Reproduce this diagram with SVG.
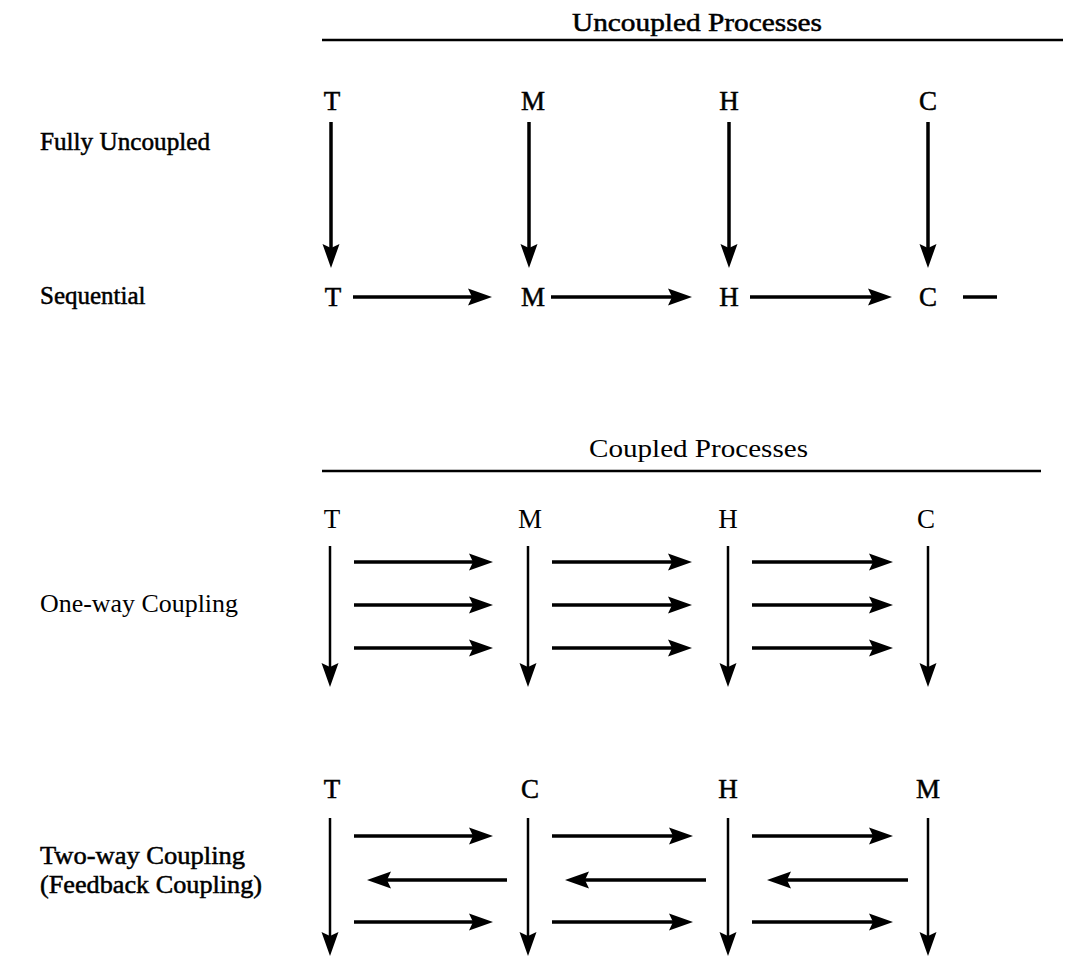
<svg xmlns="http://www.w3.org/2000/svg" width="1066" height="958" viewBox="0 0 1066 958">
<defs>
<style>
text{font-family:"Liberation Serif","Times New Roman",serif;fill:#000}
.hd{font-size:25px}
.lb{font-size:25px}
.lt{font-size:27px;text-anchor:middle}
.bold{stroke:#000;stroke-width:0.5}
.rule{stroke:#000;stroke-width:2.5;fill:none}
.ar{stroke:#000;stroke-width:3.5;fill:none;marker-end:url(#ah)}
.av{stroke:#000;stroke-width:2.5;fill:none;marker-end:url(#ah)}
</style>
<marker id="ah" markerUnits="userSpaceOnUse" markerWidth="28" markerHeight="20" refX="10" refY="9" orient="auto" overflow="visible">
<path d="M0,0.5 L24,9 L0,17.5 L4,9 Z" fill="#000"/>
</marker>
</defs>
<rect width="1066" height="958" fill="#fff"/>

<g id="headers">
<text class="hd bold" x="572" y="31" textLength="250" lengthAdjust="spacingAndGlyphs">Uncoupled Processes</text>
<line class="rule" x1="322" y1="40" x2="1063" y2="40"/>
<text class="hd" x="589" y="457" textLength="219" lengthAdjust="spacingAndGlyphs">Coupled Processes</text>
<line class="rule" x1="322" y1="471" x2="1041" y2="471"/>
</g>

<g id="row-labels">
<text id="lbl-fully" class="lb bold" x="40" y="150" textLength="170" lengthAdjust="spacingAndGlyphs">Fully Uncoupled</text>
<text id="lbl-seq" class="lb bold" x="40" y="304">Sequential</text>
<text id="lbl-oneway" class="lb" x="40" y="612" textLength="198" lengthAdjust="spacingAndGlyphs">One-way Coupling</text>
<text id="lbl-twoway" class="lb bold" x="40" y="864" textLength="205" lengthAdjust="spacingAndGlyphs">Two-way Coupling</text>
<text id="lbl-feedback" class="lb bold" x="40" y="893" textLength="222" lengthAdjust="spacingAndGlyphs">(Feedback Coupling)</text>
</g>

<g id="fully-uncoupled-nodes">
<text id="fu-T" class="lt bold" x="332" y="110">T</text>
<text id="fu-M" class="lt bold" x="533" y="110">M</text>
<text id="fu-H" class="lt bold" x="729" y="110">H</text>
<text id="fu-C" class="lt bold" x="928" y="110">C</text>
</g>

<g id="sequential-nodes">
<text id="sq-T" class="lt bold" x="333" y="306">T</text>
<text id="sq-M" class="lt bold" x="533" y="306">M</text>
<text id="sq-H" class="lt bold" x="729" y="306">H</text>
<text id="sq-C" class="lt bold" x="928" y="306">C</text>
</g>

<g id="oneway-nodes">
<text id="ow-T" class="lt" x="332" y="528">T</text>
<text id="ow-M" class="lt" x="530" y="528">M</text>
<text id="ow-H" class="lt" x="728" y="528">H</text>
<text id="ow-C" class="lt" x="926" y="528">C</text>
</g>

<g id="twoway-nodes">
<text id="tw-T" class="lt bold" x="332" y="798">T</text>
<text id="tw-C" class="lt bold" x="530" y="798">C</text>
<text id="tw-H" class="lt bold" x="728" y="798">H</text>
<text id="tw-M" class="lt bold" x="928" y="798">M</text>
</g>

<g id="connectors">
<!-- fully uncoupled -->
<line class="ar" x1="331" y1="122" x2="331" y2="254"/>
<line class="ar" x1="529" y1="122" x2="529" y2="254"/>
<line class="ar" x1="729" y1="122" x2="729" y2="254"/>
<line class="ar" x1="928" y1="122" x2="928" y2="254"/>
<!-- sequential -->
<line class="ar" x1="353" y1="297" x2="478" y2="297"/>
<line class="ar" x1="551" y1="297" x2="678" y2="297"/>
<line class="ar" x1="750" y1="297" x2="878" y2="297"/>
<line class="rule" x1="963" y1="297" x2="997" y2="297" style="stroke-width:3.5"/>
<!-- one-way verticals -->
<line class="av" x1="330" y1="546" x2="330" y2="673"/>
<line class="av" x1="528" y1="546" x2="528" y2="673"/>
<line class="av" x1="728" y1="546" x2="728" y2="673"/>
<line class="av" x1="928" y1="546" x2="928" y2="673"/>
<!-- one-way horizontals -->
<line class="ar" x1="354" y1="562" x2="479" y2="562"/>
<line class="ar" x1="354" y1="605" x2="479" y2="605"/>
<line class="ar" x1="354" y1="648" x2="479" y2="648"/>
<line class="ar" x1="552" y1="562" x2="678" y2="562"/>
<line class="ar" x1="552" y1="605" x2="678" y2="605"/>
<line class="ar" x1="552" y1="648" x2="678" y2="648"/>
<line class="ar" x1="752" y1="562" x2="879" y2="562"/>
<line class="ar" x1="752" y1="605" x2="879" y2="605"/>
<line class="ar" x1="752" y1="648" x2="879" y2="648"/>
<!-- two-way verticals -->
<line class="av" x1="330" y1="818" x2="330" y2="942"/>
<line class="av" x1="528" y1="818" x2="528" y2="942"/>
<line class="av" x1="728" y1="818" x2="728" y2="942"/>
<line class="av" x1="928" y1="818" x2="928" y2="942"/>
<!-- two-way horizontals -->
<line class="ar" x1="354" y1="836" x2="479" y2="836"/>
<line class="ar" x1="507" y1="880" x2="381" y2="880"/>
<line class="ar" x1="354" y1="922" x2="479" y2="922"/>
<line class="ar" x1="552" y1="836" x2="679" y2="836"/>
<line class="ar" x1="706" y1="880" x2="579" y2="880"/>
<line class="ar" x1="552" y1="922" x2="679" y2="922"/>
<line class="ar" x1="752" y1="836" x2="879" y2="836"/>
<line class="ar" x1="908" y1="880" x2="781" y2="880"/>
<line class="ar" x1="752" y1="922" x2="879" y2="922"/>
</g>
</svg>
